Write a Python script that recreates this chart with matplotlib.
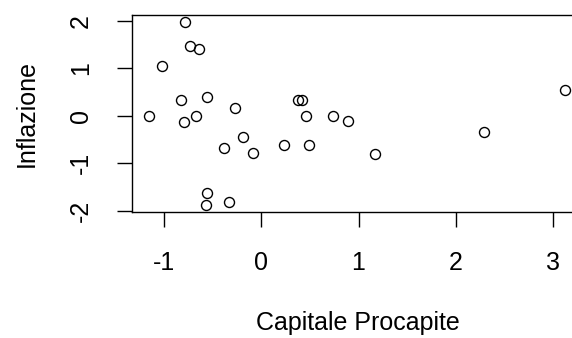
import matplotlib
matplotlib.use("Agg")
import matplotlib.pyplot as plt

# values
capitale = [-0.78, -0.73, -0.64, -1.02, -0.83, -0.56, -1.15, -0.79, -0.67,
            -0.27, -0.19, -0.38, -0.09, -0.56, -0.57, -0.33, 0.38, 0.415,
            0.46, 0.23, 0.49, 0.74, 0.89, 1.17, 2.29, 3.12]
inflazione = [1.98, 1.47, 1.40, 1.06, 0.33, 0.40, 0.0, -0.12, 0.0,
              0.16, -0.45, -0.68, -0.79, -1.63, -1.87, -1.81, 0.33, 0.33,
              0.0, -0.62, -0.62, 0.0, -0.10, -0.80, -0.35, 0.55]
x_ticks = [-1, 0, 1, 2, 3]
y_ticks = [-2, -1, 0, 1, 2]

plt.rcParams["font.family"] = ["Liberation Sans", "DejaVu Sans"]
FS = 18

fig = plt.figure(figsize=(5.72, 3.38), dpi=100)
ax = fig.add_axes([0.2302, 0.3719, 0.7907, 0.5846])

ax.plot(capitale, inflazione, linestyle="none", marker="o", markersize=7.2,
        markerfacecolor="none", markeredgecolor="black", markeredgewidth=1.0)

ax.set_xlim(-1.332, 3.317)
ax.set_ylim(-2.03, 2.13)
ax.set_xticks(x_ticks)
ax.set_xticklabels([str(v) for v in x_ticks], fontsize=FS)
ax.set_yticks(y_ticks)
ax.set_yticklabels([str(v) for v in y_ticks], fontsize=FS, rotation=90, va="center")
ax.tick_params(direction="out", length=11, width=1, pad=17)
for s in ax.spines.values():
    s.set_linewidth(1)
    s.set_clip_on(False)

ax.set_xlabel("Capitale Procapite", fontsize=FS)
ax.xaxis.set_label_coords(0.5, -0.50)
ax.set_ylabel("Inflazione", fontsize=FS)
ax.yaxis.set_label_coords(-0.205, 0.5)

fig.savefig("out.png", dpi=100)
